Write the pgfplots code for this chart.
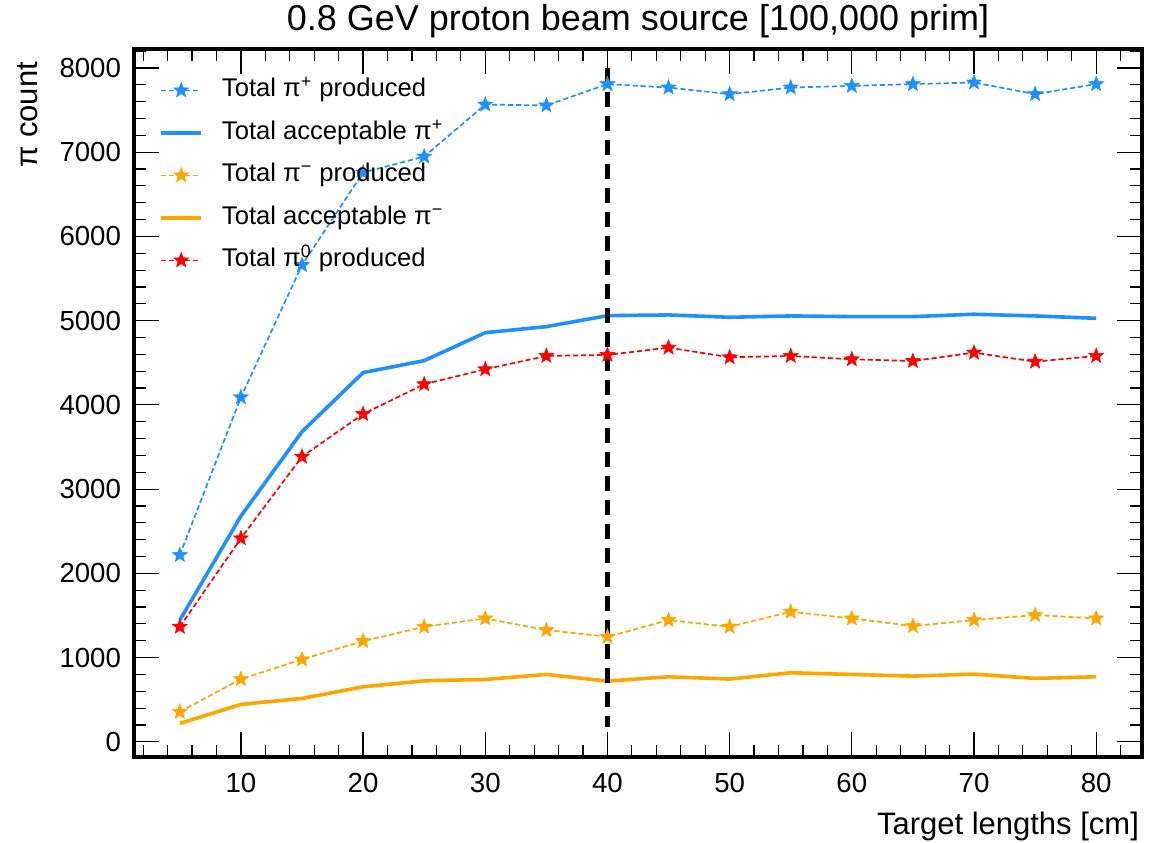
\documentclass[border=0pt]{standalone}
\usepackage{fontspec}
\setmainfont{Liberation Sans}
\usepackage{pgfplots}
\usepackage{pgfplotstable}
\pgfplotsset{compat=1.18}
\definecolor{piblue}{RGB}{30,144,255}
\definecolor{piorange}{RGB}{255,165,0}
\definecolor{pired}{RGB}{255,0,0}

% filled five-point star, like matplotlib's '*'
\pgfdeclareplotmark{fstar}{%
  \pgfpathmoveto{\pgfpointpolar{90}{\pgfplotmarksize}}%
  \pgfpathlineto{\pgfpointpolar{126}{0.42\pgfplotmarksize}}%
  \pgfpathlineto{\pgfpointpolar{162}{\pgfplotmarksize}}%
  \pgfpathlineto{\pgfpointpolar{198}{0.42\pgfplotmarksize}}%
  \pgfpathlineto{\pgfpointpolar{234}{\pgfplotmarksize}}%
  \pgfpathlineto{\pgfpointpolar{270}{0.42\pgfplotmarksize}}%
  \pgfpathlineto{\pgfpointpolar{306}{\pgfplotmarksize}}%
  \pgfpathlineto{\pgfpointpolar{342}{0.42\pgfplotmarksize}}%
  \pgfpathlineto{\pgfpointpolar{18}{\pgfplotmarksize}}%
  \pgfpathlineto{\pgfpointpolar{54}{0.42\pgfplotmarksize}}%
  \pgfpathclose
  \pgfusepathqfillstroke}

% x = target length [cm]
\pgfplotstableread{
x  pip   accp  pim   accm  piz
5  2217  1445  356   218   1366
10 4090  2680  745   444   2416
15 5660  3682  978   515   3385
20 6758  4383  1196  653   3892
25 6948  4525  1366  724   4245
30 7565  4857  1465  741   4423
35 7555  4929  1327  800   4581
40 7808  5059  1247  721   4593
45 7767  5068  1445  772   4680
50 7689  5040  1366  745   4565
55 7767  5056  1544  820   4581
60 7787  5048  1465  800   4541
65 7808  5048  1374  780   4521
70 7827  5076  1445  804   4620
75 7689  5056  1505  753   4513
80 7808  5028  1465  772   4581
}\pions

\begin{document}
\begin{tikzpicture}
\begin{axis}[
    name=ax,
    scale only axis,
    width=504pt, height=354pt,
    xmin=1.25, xmax=83.75,
    ymin=-180, ymax=8225,
    xtick={10,20,...,80},
    minor xtick={2,4,...,82},
    ytick={0,1000,...,8000},
    minor ytick={200,400,...,8200},
    tick align=inside,
    xtick pos=both, ytick pos=both,
    major tick length=12.5pt,
    minor tick length=6pt,
    every major tick/.append style={black, line width=0.6pt},
    every minor tick/.append style={black, line width=0.6pt},
    axis line style={line width=2pt},
    /pgf/number format/assume math mode=true,
    /pgf/number format/1000 sep={},
    ticklabel style={font=\fontsize{13.8}{16}\selectfont},
    yticklabel style={xshift=-3pt},
    xticklabel style={yshift=-4.5pt},
    title={0.8 GeV proton beam source [100,000 prim]},
    title style={at={(0.5,1)}, anchor=base, yshift=3pt,
        font=\fontsize{18}{21}\selectfont},
    xlabel={Target lengths [cm]},
    xlabel style={at={(1,0)}, anchor=base east, yshift=-39pt, xshift=2pt,
        font=\fontsize{15.5}{18}\selectfont},
    ylabel={π count},
    ylabel style={at={(-0.0962,0.9915)}, anchor=base east,
        font=\fontsize{15.5}{18}\selectfont},
    legend style={at={(0,1)}, anchor=north west, draw=none, fill=none,
        xshift=12.5pt, yshift=-15pt, inner sep=0pt, row sep=10.25pt,
        font=\fontsize{12.8}{15}\selectfont,
        nodes={inner sep=0pt, text height=8.6pt, text depth=2.4pt},
        /tikz/every odd column/.append style={column sep=9.5pt}},
    legend cell align=left,
    legend image code/.code={%
        \draw[mark repeat=2, mark phase=2, #1]
            plot coordinates {(0pt,0pt) (10pt,0pt) (20pt,0pt)};},
    mark size=3.9pt,
]
\addplot[piblue, line width=0.85pt, dash pattern=on 2.6pt off 1.4pt,
    mark=fstar, mark options={solid, fill=piblue, line width=0.3pt}]
    table[x=x, y=pip] {\pions};
\addlegendentry{Total π\textsuperscript{+} produced}
\addplot[piblue, line width=1.8pt]
    table[x=x, y=accp] {\pions};
\addlegendentry{Total acceptable π\textsuperscript{+}}
\addplot[piorange, line width=0.85pt, dash pattern=on 2.6pt off 1.4pt,
    mark=fstar, mark options={solid, fill=piorange, line width=0.3pt}]
    table[x=x, y=pim] {\pions};
\addlegendentry{Total π\textsuperscript{−} produced}
\addplot[piorange, line width=1.8pt]
    table[x=x, y=accm] {\pions};
\addlegendentry{Total acceptable π\textsuperscript{−}}
\addplot[pired, line width=0.85pt, dash pattern=on 2.6pt off 1.4pt,
    mark=fstar, mark options={solid, fill=pired, line width=0.3pt}]
    table[x=x, y=piz] {\pions};
\addlegendentry{Total π\textsuperscript{0} produced}
% chosen target length
\addplot[black, line width=2.3pt, dash pattern=on 7.5pt off 4.5pt, forget plot]
    coordinates {(40,8000) (40,175)};
\end{axis}
\pgfresetboundingbox
\path[use as bounding box]
    ([shift={(-67pt,-43pt)}]ax.south west) rectangle
    ([shift={(5.5pt,24.5pt)}]ax.north east);
\end{tikzpicture}
\end{document}
